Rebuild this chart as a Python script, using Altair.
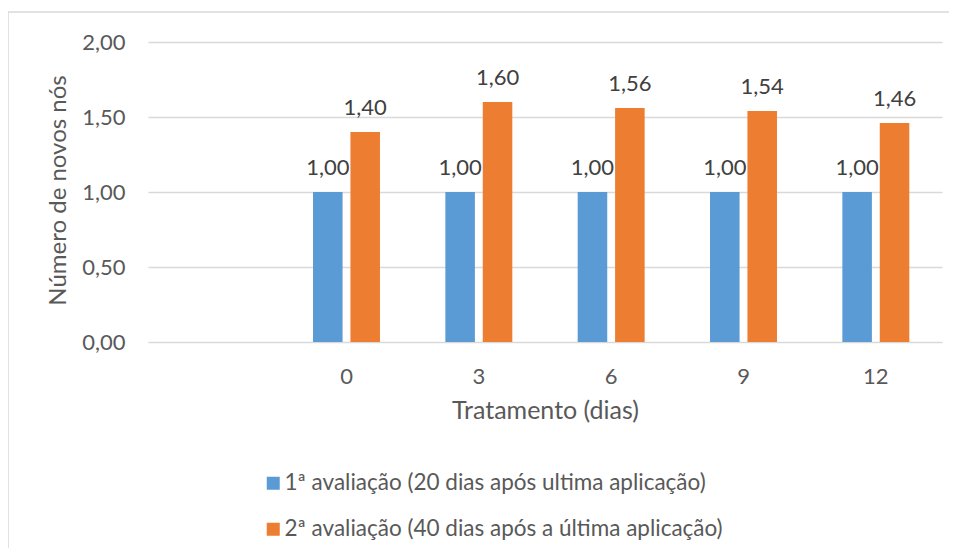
import altair as alt
import pandas as pd

# ---- data ----
categories = ["", "0", "3", "6", "9", "12"]          # first slot is empty in the original
treatments = ["0", "3", "6", "9", "12"]
series_names = [
    "1ª avaliação (20 dias após ultima aplicação)",
    "2ª avaliação (40 dias após a última aplicação)",
]
eval1 = [1.00, 1.00, 1.00, 1.00, 1.00]
eval2 = [1.40, 1.60, 1.56, 1.54, 1.46]
y_ticks = [0.0, 0.5, 1.0, 1.5, 2.0]
colors = ["#5B9BD5", "#ED7D31"]

rows = []
for s, vals in zip(series_names, [eval1, eval2]):
    for t, v in zip(treatments, vals):
        rows.append({"trat": t, "serie": s, "valor": v,
                     "label": f"{v:.2f}".replace(".", ",")})
df = pd.DataFrame(rows)

FONT = "Lato"
GRAY = "#595959"
GRID = "#d9d9d9"

x_enc = alt.X(
    "trat:N",
    sort=categories,
    scale=alt.Scale(domain=categories, paddingInner=0.494, paddingOuter=0.247),
    axis=alt.Axis(
        title="Tratamento (dias)", labelAngle=0, ticks=False, tickSize=0,
        domain=False, grid=False, labelFontSize=22, labelColor=GRAY,
        labelPadding=24, labelFont=FONT, titleFont=FONT, titleFontSize=25,
        titleFontWeight="normal", titleColor=GRAY, titleY=68,
        titleBaseline="middle",
    ),
)
xo_enc = alt.XOffset(
    "serie:N",
    scale=alt.Scale(domain=series_names, paddingInner=0.21, paddingOuter=0),
)
y_enc = alt.Y(
    "valor:Q",
    scale=alt.Scale(domain=[0, 2], nice=False),
    axis=alt.Axis(
        values=y_ticks,
        labelExpr="replace(format(datum.value, '.2f'), '.', ',')",
        title="Número de novos nós", ticks=False, tickSize=0, domain=False,
        grid=True, gridColor=GRID, gridWidth=1.5,
        labelFontSize=22, labelColor=GRAY, labelPadding=23, labelFont=FONT,
        titleFont=FONT, titleFontSize=24, titleFontWeight="normal",
        titleColor=GRAY, titleX=-90, titleY=148, titleBaseline="middle",
    ),
)

frame = alt.Chart(alt.Data(values=[{}])).mark_rect(
    fill="white", fillOpacity=0, stroke=GRID, strokeWidth=1.5
).encode(
    x=alt.value(-140), x2=alt.value(820), y=alt.value(-30), y2=alt.value(520)
)

bars = alt.Chart(df).mark_bar().encode(
    x=x_enc,
    xOffset=xo_enc,
    y=y_enc,
    color=alt.Color(
        "serie:N",
        scale=alt.Scale(domain=series_names, range=colors),
        legend=alt.Legend(
            orient="none", legendX=114, legendY=430, direction="vertical",
            title=None, symbolType="square", symbolSize=169,
            symbolStrokeWidth=0, symbolOpacity=1, labelFontSize=22.5,
            labelColor=GRAY, labelFont=FONT, labelLimit=800, labelOffset=0,
            rowPadding=23,
        ),
    ),
)

labels = alt.Chart(df).mark_text(
    baseline="alphabetic", dy=-17, fontSize=22, font=FONT, color="#404040"
).encode(
    x=x_enc,
    xOffset=xo_enc,
    y=y_enc,
    text="label:N",
)

chart = alt.layer(frame, bars, labels).properties(
    width=794,
    height=300,
    padding={"left": 140, "top": 34, "right": 7, "bottom": 206},
    autosize=alt.AutoSizeParams(type="none"),
    background="white",
).configure_view(stroke=None)

chart.save("out.html", embed_options={"renderer": "svg", "actions": False})
